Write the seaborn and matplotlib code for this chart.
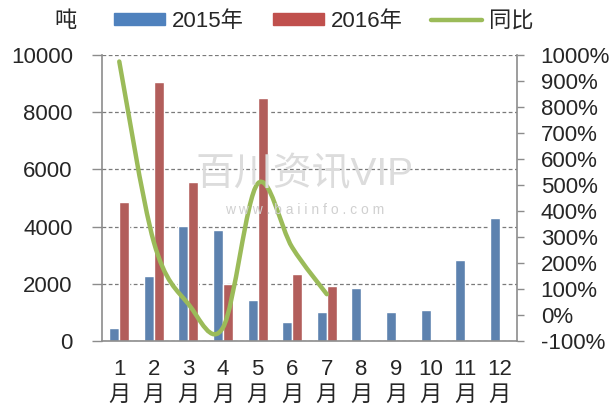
import numpy as np
import pandas as pd
import seaborn as sns
import matplotlib.pyplot as plt
from matplotlib.path import Path
from matplotlib.patches import PathPatch, Patch
from matplotlib.lines import Line2D

# data
months = [f"{m}\n月" for m in range(1, 13)]
sales_2015 = [450, 2270, 4010, 3880, 1430, 660, 1010, 1850, 1010, 1080, 2840, 4300]
sales_2016 = [4860, 9050, 5560, 1980, 8490, 2350, 1930]
yoy = [975, 280, 42, -48, 505, 260, 80]

blue = "#4F81BD"
red = "#C0504D"
green = "#9BBB59"
grey = "#8C8C8C"

sns.set_style("white")
plt.rcParams["font.family"] = ["Liberation Sans", "Noto Sans CJK SC", "DejaVu Sans"]

rows = []
for m, v in zip(months, sales_2015):
    rows.append({"month": m, "year": "2015年", "value": v})
for m, v in zip(months, sales_2016):
    rows.append({"month": m, "year": "2016年", "value": v})
df = pd.DataFrame(rows)

fig = plt.figure(figsize=(6.11, 4.12), dpi=100)
ax = fig.add_axes([0.1669, 0.1723, 0.6793, 0.6942])

sns.barplot(data=df, x="month", y="value", hue="year", order=months,
            hue_order=["2015年", "2016年"], palette=[blue, red],
            width=0.58, errorbar=None, legend=False, ax=ax, zorder=2)

ax.set_xlim(-0.5, 11.5)
ax.set_ylim(0, 10000)
ax.set_yticks(range(0, 10001, 2000))
ax.set_xlabel("")
ax.set_ylabel("")
ax.yaxis.grid(True, linestyle=(0, (3, 2)), color="#7a7a7a", linewidth=0.9, zorder=0)
ax.set_axisbelow(True)
ax.set_xticks(np.arange(-0.5, 12, 1), minor=True)
ax.tick_params(axis="x", which="major", length=0, pad=13, labelsize=16)
ax.tick_params(axis="x", which="minor", length=7, width=1, color=grey, direction="out")
ax.tick_params(axis="y", length=7, width=1, color=grey, direction="out", pad=14, labelsize=16, left=True)
for lbl in ax.get_xticklabels():
    lbl.set_linespacing(1.3)
for s in ["top", "right"]:
    ax.spines[s].set_visible(False)
for s in ["left", "bottom"]:
    ax.spines[s].set_color(grey)
    ax.spines[s].set_linewidth(1.2)

# right axis with the smoothed year-on-year line
ax2 = ax.twinx()
ax2.set_ylim(-100, 1000)
ax2.set_yticks(range(-100, 1001, 100))
ax2.set_yticklabels([f"{t}%" for t in range(-100, 1001, 100)])
ax2.tick_params(axis="y", length=5, width=1, color=grey, direction="out", pad=12, labelsize=16, right=True)
for s in ["top", "left", "bottom"]:
    ax2.spines[s].set_visible(False)
ax2.spines["right"].set_color(grey)
ax2.spines["right"].set_linewidth(1.2)

# smooth curve through the points (catmull-rom as bezier, like excel)
pts = np.column_stack([np.arange(len(yoy)), yoy]).astype(float)
ext = np.vstack([pts[0], pts, pts[-1]])
verts = [tuple(pts[0])]
codes = [Path.MOVETO]
for i in range(len(pts) - 1):
    p0, p1, p2, p3 = ext[i], ext[i + 1], ext[i + 2], ext[i + 3]
    c1 = p1 + (p2 - p0) / 6
    c2 = p2 - (p3 - p1) / 6
    verts += [tuple(c1), tuple(c2), tuple(p2)]
    codes += [Path.CURVE4] * 3
ax2.add_patch(PathPatch(Path(verts, codes), facecolor="none", edgecolor=green,
                        linewidth=3.2, capstyle="round", zorder=3))

# watermark
fig.text(0.498, 0.575, "百川资讯VIP", fontsize=28, color="#dcdcdc", ha="center", va="center", zorder=0)
fig.text(0.498, 0.49, "w w w . b a i i n f o . c o m", fontsize=10, color="#d0d0d0",
         ha="center", va="center", zorder=0)

# legend and unit
handles = [Patch(color=blue), Patch(color=red), Line2D([0], [0], color=green, linewidth=3.2)]
fig.legend(handles, ["2015年", "2016年", "同比"], loc="center", bbox_to_anchor=(0.53, 0.947),
           ncol=3, frameon=False, fontsize=16, handlelength=2.3, handleheight=0.45,
           handletextpad=0.3, columnspacing=1.3, borderpad=0)
fig.text(0.108, 0.947, "吨", fontsize=16, ha="center", va="center")

fig.savefig("out.png", dpi=100)
